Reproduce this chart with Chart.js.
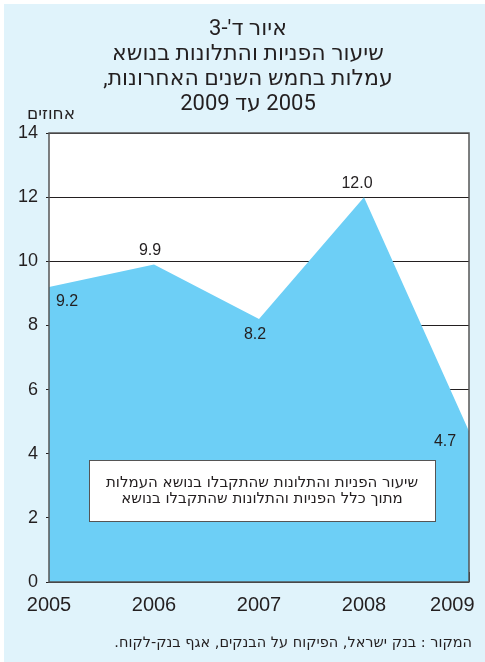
<!DOCTYPE html>
<html lang="he">
<head>
<meta charset="utf-8">
<script src="https://cdn.jsdelivr.net/npm/chart.js@4.4.1/dist/chart.umd.min.js"></script>
<style>
  html, body { margin: 0; padding: 0; background: #fff; }
  canvas { display: block; }
</style>
</head>
<body>
<canvas id="chart" width="485" height="662" dir="rtl"></canvas>
<script>
// נתונים
const years = ['2005', '2006', '2007', '2008', '2009'];
const rates = [9.2, 9.9, 8.2, 12.0, 4.7];
const yTicks = [0, 2, 4, 6, 8, 10, 12, 14];

const titleLines = [
    "איור ד'-3",
    'שיעור הפניות והתלונות בנושא',
    'עמלות בחמש השנים האחרונות,',
    '2005 עד 2009'
];
const unitLabel = 'אחוזים';
const legendLines = [
    'שיעור הפניות והתלונות שהתקבלו בנושא העמלות',
    'מתוך כלל הפניות והתלונות שהתקבלו בנושא'
];
const sourceNote = 'המקור : בנק ישראל, הפיקוח על הבנקים, אגף בנק-לקוח.';

const FONT = "'Liberation Sans', 'DejaVu Sans', sans-serif";
const HEB_FONT = "'DejaVu Sans', sans-serif";
const TITLE_FONT = "Roboto, 'DejaVu Sans', sans-serif";
const INK = '#231f20';

// רקע: מסגרת תכלת ואזור גרף לבן
const backgroundPlugin = {
    id: 'background',
    beforeDraw(chart) {
        const { ctx, width, height, chartArea: a } = chart;
        ctx.save();
        ctx.fillStyle = '#ffffff';
        ctx.fillRect(0, 0, width, height);
        ctx.fillStyle = '#e0f3fb';
        ctx.fillRect(4, 4, width - 4, height - 4);
        ctx.fillStyle = '#ffffff';
        ctx.fillRect(a.left, a.top, a.width, a.height);
        ctx.restore();
    }
};

// מסגרת, תוויות ערכים ומקרא
const overlayPlugin = {
    id: 'overlay',
    afterDatasetsDraw(chart) {
        const { ctx, chartArea: a } = chart;
        const meta = chart.getDatasetMeta(0);
        ctx.save();

        ctx.strokeStyle = '#555555';
        ctx.lineWidth = 1.5;
        ctx.strokeRect(a.left, a.top, a.width, a.height);

        // תוויות ערכים ליד כל נקודה
        const offsets = [[18, 15], [-4, -14], [-4, 16], [-7, -14], [-24, 10]];
        ctx.fillStyle = INK;
        ctx.font = '16px ' + FONT;
        ctx.textAlign = 'center';
        ctx.textBaseline = 'middle';
        meta.data.forEach((pt, i) => {
            const [dx, dy] = offsets[i];
            ctx.fillText(rates[i].toFixed(1), pt.x + dx, pt.y + dy);
        });

        // תיבת מקרא
        const bx = a.left + 40, by = a.bottom - 122, bw = 346, bh = 61;
        ctx.fillStyle = '#ffffff';
        ctx.fillRect(bx, by, bw, bh);
        ctx.strokeStyle = '#555555';
        ctx.lineWidth = 1;
        ctx.strokeRect(bx + 0.5, by + 0.5, bw, bh);
        ctx.fillStyle = INK;
        ctx.font = '15px ' + HEB_FONT;
        ctx.direction = 'rtl';
        legendLines.forEach((line, i) => {
            ctx.fillText(line, bx + bw / 2, by + 23 + i * 16);
        });
        ctx.restore();
    },
    afterDraw(chart) {
        const { ctx } = chart;
        ctx.save();
        ctx.direction = 'rtl';
        ctx.fillStyle = INK;
        ctx.textBaseline = 'middle';
        ctx.textAlign = 'right';
        ctx.font = '17px ' + HEB_FONT;
        ctx.fillText(unitLabel, 75, 115);
        ctx.font = '14.5px ' + HEB_FONT;
        ctx.fillText(sourceNote, 472, 643);
        ctx.restore();
    }
};

const ctx = document.getElementById('chart').getContext('2d');
new Chart(ctx, {
    type: 'line',
    data: {
        labels: years,
        datasets: [{
            data: rates,
            fill: 'origin',
            backgroundColor: '#6dcff6',
            borderWidth: 0,
            pointRadius: 0,
            tension: 0
        }]
    },
    options: {
        responsive: false,
        animation: false,
        layout: { padding: { top: 4, left: 11, right: 0, bottom: 4 } },
        plugins: {
            legend: { display: false },
            tooltip: { enabled: false },
            title: {
                display: true,
                text: titleLines,
                color: INK,
                font: { family: TITLE_FONT, size: 22, weight: 'normal', lineHeight: 25 / 22 },
                padding: { top: 13, bottom: 16 }
            }
        },
        scales: {
            x: {
                z: 1,
                grid: {
                    drawOnChartArea: false,
                    drawTicks: true,
                    tickLength: -10,
                    color: INK
                },
                border: { display: false },
                ticks: {
                    color: INK,
                    font: { family: FONT, size: 20 },
                    padding: 21,
                    maxRotation: 0,
                    autoSkip: false,
                    // התווית האחרונה מוזזת שמאלה כדי שלא תחרוג מהתמונה
                    callback: function(value, index) {
                        const label = years[index];
                        return index === years.length - 1 ? '      ' + label : label;
                    }
                },
                afterFit: function(scale) {
                    scale.height = 76;
                    scale.paddingLeft = 0;
                    scale.paddingRight = 0;
                }
            },
            y: {
                min: yTicks[0],
                max: yTicks[yTicks.length - 1],
                grid: { color: INK, tickLength: 3 },
                border: { display: false },
                ticks: {
                    stepSize: 2,
                    color: INK,
                    padding: 8,
                    font: { family: FONT, size: 18 }
                },
                afterFit: function(scale) {
                    scale.width = 38;
                }
            },
            // שוליים ימניים ריקים
            yRight: {
                position: 'right',
                grid: { display: false },
                border: { display: false },
                ticks: { display: false },
                afterFit: function(scale) {
                    scale.width = 16;
                }
            }
        }
    },
    plugins: [backgroundPlugin, overlayPlugin]
});
</script>
</body>
</html>
